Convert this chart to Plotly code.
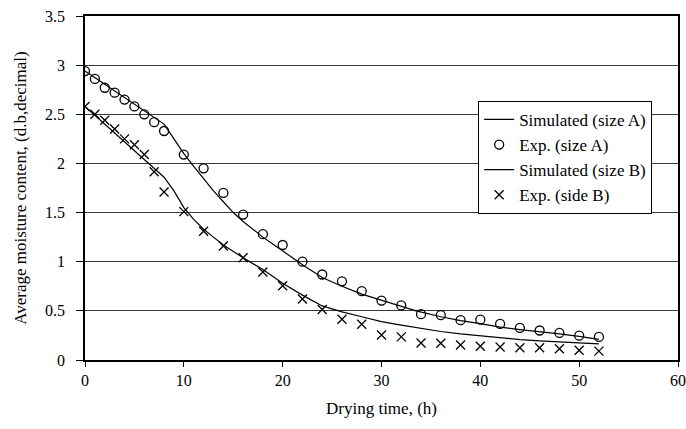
import plotly.graph_objects as go

# Experimental data
exp_time = [0, 1, 2, 3, 4, 5, 6, 7, 8, 10, 12, 14, 16, 18, 20, 22, 24, 26, 28, 30,
            32, 34, 36, 38, 40, 42, 44, 46, 48, 50, 52]
exp_a = [2.94, 2.86, 2.77, 2.72, 2.65, 2.58, 2.50, 2.42, 2.33, 2.09, 1.95, 1.70, 1.48,
         1.28, 1.17, 1.00, 0.87, 0.80, 0.70, 0.605, 0.555, 0.466, 0.456, 0.405, 0.41,
         0.367, 0.326, 0.30, 0.275, 0.248, 0.235]
exp_b = [2.58, 2.50, 2.44, 2.35, 2.25, 2.19, 2.09, 1.915, 1.71, 1.51, 1.31, 1.16, 1.04,
         0.895, 0.755, 0.62, 0.513, 0.415, 0.364, 0.255, 0.235, 0.173, 0.17, 0.153, 0.14,
         0.133, 0.125, 0.125, 0.115, 0.10, 0.09]

# Simulated curves
sim_time_a = [0, 8, 9, 10, 11, 12, 13, 14, 15, 16, 17, 18, 19, 20, 21.5, 22, 24, 26, 28,
              30, 32, 33.5, 36, 38, 40, 42, 44, 46, 48, 50, 52]
sim_a = [2.94, 2.40, 2.25, 2.10, 1.97, 1.84, 1.72, 1.61, 1.50, 1.41, 1.33, 1.25, 1.18,
         1.11, 1.00, 0.97, 0.84, 0.75, 0.67, 0.61, 0.55, 0.50, 0.44, 0.40, 0.37, 0.335,
         0.31, 0.29, 0.265, 0.24, 0.21]
sim_time_b = [0, 8, 9, 10, 11, 12, 13, 14, 16, 18, 20, 22, 24, 26, 28, 30, 32, 34, 36,
              38, 40, 42, 44, 46, 48, 50, 52]
sim_b = [2.58, 1.86, 1.72, 1.55, 1.43, 1.33, 1.25, 1.17, 1.04, 0.92, 0.78, 0.66, 0.55,
         0.49, 0.44, 0.39, 0.355, 0.32, 0.29, 0.265, 0.245, 0.225, 0.208, 0.195, 0.185,
         0.175, 0.165]

y_ticks = [0, 0.5, 1, 1.5, 2, 2.5, 3, 3.5]
y_tick_labels = ["0", "0.5", "1", "1.5", "2", "2.5", "3", "3.5"]
x_ticks = [0, 10, 20, 30, 40, 50, 60]

font_family = "Liberation Serif, Times New Roman, serif"

fig = go.Figure()
fig.add_trace(go.Scatter(x=sim_time_a, y=sim_a, mode="lines", name="Simulated (size A)",
                         line=dict(color="black", width=1.2)))
fig.add_trace(go.Scatter(x=exp_time, y=exp_a, mode="markers", name="Exp. (size A)",
                         marker=dict(symbol="circle-open", size=9, color="black",
                                     line=dict(width=1.3, color="black"))))
fig.add_trace(go.Scatter(x=sim_time_b, y=sim_b, mode="lines", name="Simulated (size B)",
                         line=dict(color="black", width=1.2)))
fig.add_trace(go.Scatter(x=exp_time, y=exp_b, mode="markers", name="Exp. (side B)",
                         marker=dict(symbol="x-thin-open", size=9, color="black",
                                     line=dict(width=1.3, color="black"))))

fig.update_layout(
    width=686, height=429,
    margin=dict(l=85, r=8, t=16, b=69),
    paper_bgcolor="white", plot_bgcolor="white",
    font=dict(family=font_family, size=16, color="black"),
    showlegend=True,
    legend=dict(x=0.663, y=0.589, xanchor="left", yanchor="middle",
                bgcolor="white", bordercolor="black", borderwidth=1,
                font=dict(family=font_family, size=17, color="black"),
                tracegroupgap=0, itemwidth=30),
    xaxis=dict(range=[0, 60], tickvals=x_ticks, ticks="outside", ticklen=5,
               tickcolor="black", showline=True, linecolor="black", linewidth=1.5,
               mirror=True, showgrid=False, zeroline=False, automargin=False,
               ticklabeloverflow="allow",
               title=dict(text="Drying time, (h)", standoff=14, font=dict(size=17)),
               tickfont=dict(size=16)),
    yaxis=dict(range=[0, 3.5], tickvals=y_ticks, ticktext=y_tick_labels,
               ticks="outside", ticklen=7, tickcolor="black", ticklabelstandoff=8,
               showline=True, linecolor="black", linewidth=1.5, mirror=True,
               showgrid=True, gridcolor="#3a3a3a", gridwidth=1, zeroline=False,
               automargin=False, ticklabeloverflow="allow",
               title=dict(text="Average moisture content, (d.b,decimal)", standoff=14,
                          font=dict(size=17)),
               tickfont=dict(size=16)),
)

# Remove the default page margin so the figure fills the window exactly.
fig.write_html("out.html",
               config={"displayModeBar": False},
               post_script="document.body.style.margin='0';document.body.style.overflow='hidden';")
